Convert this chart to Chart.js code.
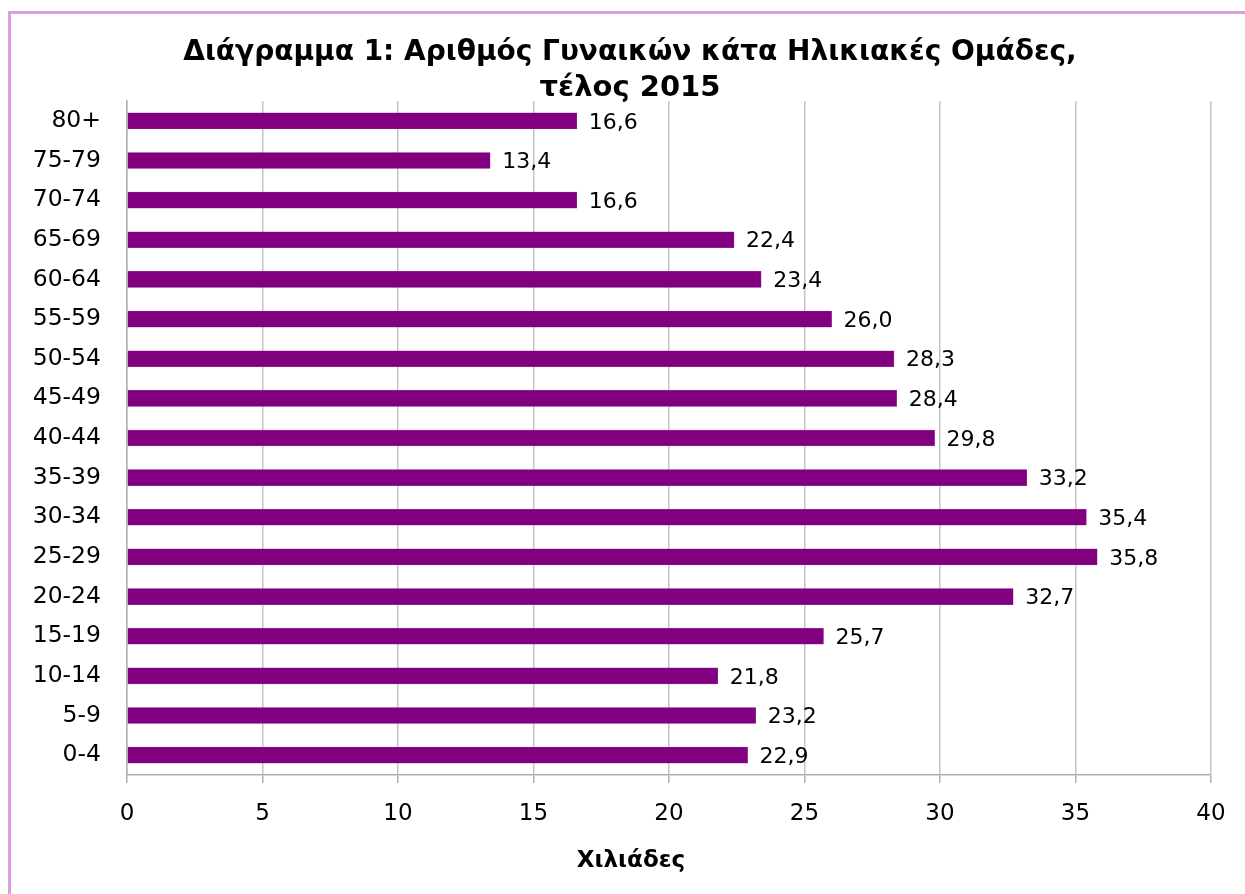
<!DOCTYPE html>
<html>
<head>
<meta charset="utf-8">
<script src="https://cdn.jsdelivr.net/npm/chart.js@4/dist/chart.umd.min.js"></script>
<style>
  html, body { margin: 0; padding: 0; background: #fff; overflow: hidden; }
  canvas { display: block; }
</style>
</head>
<body>
<canvas id="c" width="1245" height="894"></canvas>
<script>
const categories = ["80+", "75-79", "70-74", "65-69", "60-64", "55-59", "50-54", "45-49", "40-44", "35-39", "30-34", "25-29", "20-24", "15-19", "10-14", "5-9", "0-4"];
const values = [16.6, 13.4, 16.6, 22.4, 23.4, 26.0, 28.3, 28.4, 29.8, 33.2, 35.4, 35.8, 32.7, 25.7, 21.8, 23.2, 22.9];
const xTicks = [0, 5, 10, 15, 20, 25, 30, 35, 40];
const titleLines = ["Διάγραμμα 1: Αριθμός Γυναικών κάτα Ηλικιακές Ομάδες,", "τέλος 2015"];
const axisTitle = "Χιλιάδες";

const FONT = "'DejaVu Sans', Verdana, sans-serif";

const framePlugin = {
  id: 'frame',
  beforeDraw(chart) {
    const ctx = chart.ctx;
    ctx.save();
    ctx.fillStyle = '#fff';
    ctx.fillRect(0, 0, chart.width, chart.height);
    ctx.fillStyle = '#dda0dd';
    ctx.fillRect(8, 11, 3, chart.height - 11);
    ctx.fillRect(8, 11, chart.width - 8, 3);
    ctx.restore();
  }
};

const textPlugin = {
  id: 'texts',
  afterDraw(chart) {
    const ctx = chart.ctx;
    ctx.save();
    ctx.fillStyle = '#000';
    ctx.textAlign = 'center';
    ctx.textBaseline = 'middle';
    ctx.font = "bold 28px " + FONT;
    ctx.fillText(titleLines[0], 630, 53);
    ctx.font = "bold 29px " + FONT;
    ctx.fillText(titleLines[1], 630, 88);
    ctx.font = "bold 23px " + FONT;
    ctx.fillText(axisTitle, 631, 861);
    // data labels
    const meta = chart.getDatasetMeta(0);
    ctx.font = "22px " + FONT;
    ctx.textAlign = 'left';
    meta.data.forEach((bar, i) => {
      const txt = values[i].toFixed(1).replace('.', ',');
      ctx.fillText(txt, bar.x + 12, bar.y + 2);
    });
    ctx.restore();
  }
};

new Chart(document.getElementById('c'), {
  type: 'bar',
  data: {
    labels: categories,
    datasets: [{
      data: values,
      backgroundColor: '#800080',
      borderColor: '#9a3a9a',
      borderWidth: 0.5,
      barThickness: 16
    }]
  },
  options: {
    indexAxis: 'y',
    responsive: false,
    animation: false,
    devicePixelRatio: 1,
    layout: { padding: { top: 101, right: 34, left: 0, bottom: 0 } },
    plugins: { legend: { display: false }, tooltip: { enabled: false }, title: { display: false } },
    scales: {
      x: {
        min: 0, max: 40,
        afterBuildTicks(scale) { scale.ticks = xTicks.map(v => ({ value: v })); },
        grid: { color: '#c4c4c4', lineWidth: 1.5, tickLength: 8, drawOnChartArea: true, tickColor: '#b0b0b0' },
        border: { display: true, color: '#b0b0b0', width: 1.5 },
        ticks: { color: '#000', font: { family: FONT, size: 23 }, padding: 17, maxRotation: 0, autoSkip: false },
        afterFit(scale) { scale.height = 119; }
      },
      y: {
        grid: { display: false },
        border: { display: true, color: '#b0b0b0', width: 1.5 },
        ticks: { color: '#000', font: { family: FONT, size: 23.5 }, padding: 18, autoSkip: false },
        afterFit(scale) { scale.width = 127; }
      }
    }
  },
  plugins: [framePlugin, textPlugin]
});
</script>
</body>
</html>
